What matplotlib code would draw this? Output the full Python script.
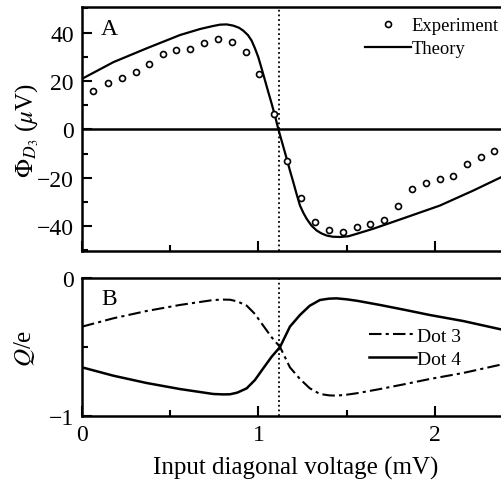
import numpy as np
import matplotlib
matplotlib.use("Agg")
import matplotlib.pyplot as plt
from matplotlib.ticker import MultipleLocator, FixedLocator

plt.rcParams['font.family'] = ['Liberation Serif', 'DejaVu Serif']
plt.rcParams['mathtext.fontset'] = 'stix'

# panel A: experiment points (mV, uV)
exp_x = [0.064, 0.147, 0.225, 0.304, 0.378, 0.461, 0.534, 0.612, 0.693, 0.771,
         0.848, 0.927, 1.005, 1.085, 1.161, 1.238, 1.322, 1.398, 1.479, 1.556,
         1.632, 1.711, 1.790, 1.867, 1.947, 2.027, 2.104, 2.181, 2.259, 2.334]
exp_y = [16.0, 19.1, 21.3, 23.9, 27.2, 31.1, 32.9, 33.1, 35.6, 37.4,
         36.0, 31.9, 22.7, 6.3, -13.0, -28.2, -38.4, -41.7, -42.6, -40.3,
         -39.3, -37.5, -31.5, -24.7, -22.0, -20.5, -19.3, -14.3, -11.6, -8.9]

# panel A: theory curve
th_x = [0.0, 0.178, 0.366, 0.555, 0.669, 0.74, 0.782, 0.82, 0.857, 0.89, 0.914,
        0.94, 0.961, 0.98, 0.999, 1.018, 1.037, 1.056, 1.075, 1.094, 1.112,
        1.136, 1.16, 1.178, 1.197, 1.216, 1.235, 1.254, 1.273, 1.30, 1.329,
        1.356, 1.386, 1.42, 1.462, 1.51, 1.556, 1.65, 1.84, 2.028, 2.217, 2.42]
th_y = [20.9, 27.8, 33.5, 39.0, 41.5, 42.7, 43.3, 43.4, 42.9, 42.0, 40.8,
        39.0, 36.7, 33.5, 29.8, 25.1, 20.2, 15.3, 10.5, 5.4, 0.2,
        -6.0, -12.2, -17.0, -21.8, -26.8, -31.5, -34.5, -37.0, -39.8, -41.8,
        -43.0, -43.9, -44.4, -44.5, -44.2, -43.2, -41.1, -36.3, -31.5, -25.3, -18.2]

# panel B: charges on dots 3 and 4 (units of e)
q_x = [0.0, 0.178, 0.366, 0.555, 0.744, 0.80, 0.839, 0.88, 0.933, 0.98, 1.027,
       1.075, 1.122, 1.178, 1.235, 1.29, 1.348, 1.40, 1.443, 1.50, 1.56,
       1.688, 1.83, 1.97, 2.16, 2.42]
dot3 = [-0.352, -0.291, -0.238, -0.194, -0.158, -0.155, -0.156, -0.168, -0.199, -0.26,
        -0.345, -0.43, -0.50, -0.648, -0.733, -0.80, -0.842, -0.852, -0.854, -0.847, -0.836,
        -0.806, -0.77, -0.733, -0.689, -0.615]
dot4 = [-0.648, -0.709, -0.762, -0.806, -0.842, -0.845, -0.844, -0.832, -0.801, -0.74,
        -0.655, -0.57, -0.50, -0.352, -0.267, -0.20, -0.158, -0.148, -0.146, -0.153, -0.164,
        -0.194, -0.23, -0.267, -0.311, -0.385]

x_cross = 1.115

fig = plt.figure(figsize=(5.02, 4.89), dpi=100)
axA = fig.add_axes([82/502, 1 - 252/489, 428/502, 244/489])
axB = fig.add_axes([82/502, 1 - 416.7/489, 428/502, 137.4/489])

for ax in (axA, axB):
    ax.set_xlim(0, 428/176.5)
    ax.spines['right'].set_visible(False)
    for s in ('left', 'top', 'bottom'):
        ax.spines[s].set_linewidth(1.8)
    ax.tick_params(which='both', direction='in', top=False, right=False,
                   labelsize=17, width=1.5, pad=6)
    ax.tick_params(which='major', length=7)
    ax.tick_params(which='minor', length=4)
    ax.xaxis.set_major_locator(MultipleLocator(1))
    ax.xaxis.set_minor_locator(MultipleLocator(0.5))
    ax.axvline(x_cross, color='black', linestyle=(0, (1, 1.6)), linewidth=1.3)

# panel A
axA.plot(th_x, th_y, color='black', linewidth=1.6, label='Theory')
axA.plot(exp_x, exp_y, linestyle='none', marker='o', markersize=4.3,
         markerfacecolor='white', markeredgecolor='black', markeredgewidth=1.2,
         label='Experiment')
axA.axhline(0, color='black', linewidth=1.8)
axA.set_ylim(-50.3, 50.6)
axA.yaxis.set_major_locator(MultipleLocator(20))
axA.yaxis.set_minor_locator(MultipleLocator(10))
axA.tick_params(axis='x', labelbottom=False)
axA.set_ylabel(r'$\Phi_{D_3}$ ($\mu$V)', fontsize=18, labelpad=-3)
axA.text(0.045, 0.955, 'A', transform=axA.transAxes, fontsize=17,
         ha='left', va='top')
hA, lA = axA.get_legend_handles_labels()
axA.legend(hA[::-1], lA[::-1], loc='upper left', bbox_to_anchor=(0.634, 1.003),
           frameon=False, fontsize=13.4, handlelength=2.5, handletextpad=0.02,
           labelspacing=0.3, borderaxespad=0.2)

# panel B
axB.plot(q_x, dot3, color='black', linewidth=1.5,
         linestyle=(0, (6, 2, 1.5, 2)), label='Dot 3')
axB.plot(q_x, dot4, color='black', linewidth=1.8, label='Dot 4')
axB.set_ylim(-1, 0)
axB.yaxis.set_major_locator(FixedLocator([-1, 0]))
axB.yaxis.set_minor_locator(FixedLocator([-0.5]))
axB.set_yticklabels(['\u22121', '0'])
axB.set_ylabel(r'$Q$/e', fontsize=18, labelpad=8)
axB.text(0.045, 0.93, 'B', transform=axB.transAxes, fontsize=17,
         ha='left', va='top')
axB.legend(loc='upper left', bbox_to_anchor=(0.643, 0.73), frameon=False,
           fontsize=14, handlelength=2.4, handletextpad=0.1,
           labelspacing=0.3, borderaxespad=0.2)
axB.set_xlabel('Input diagonal voltage (mV)', fontsize=18, labelpad=8)

fig.savefig('out.png', dpi=100)
